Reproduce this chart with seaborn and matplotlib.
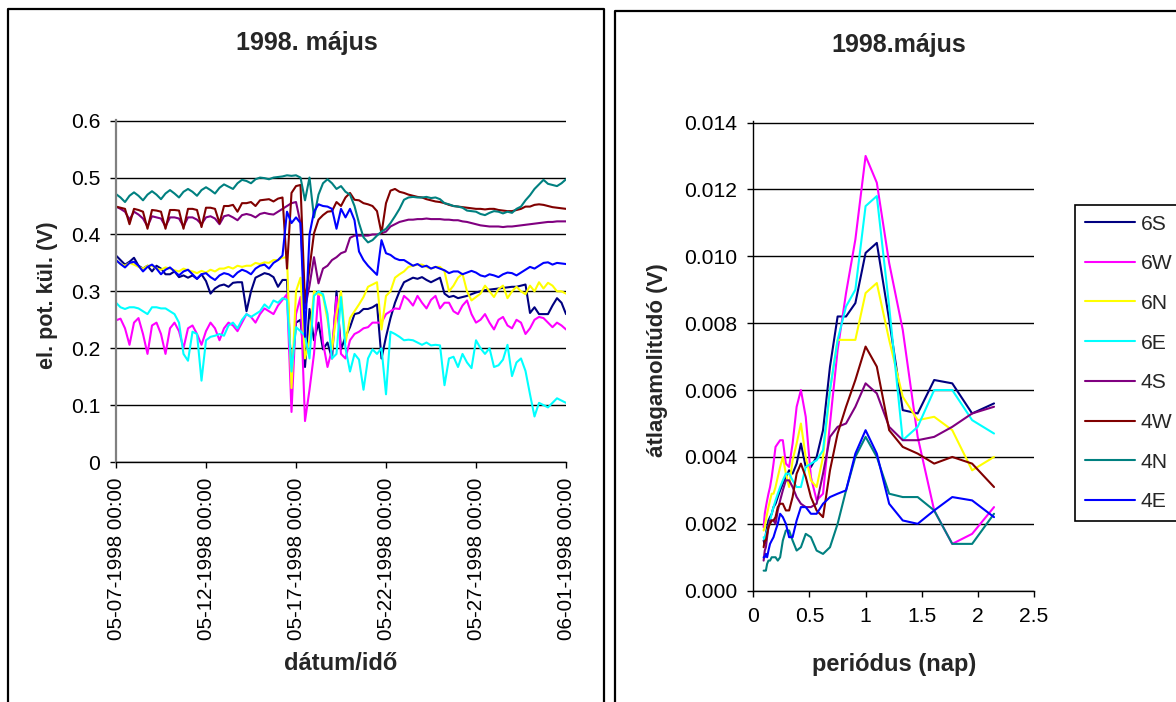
import numpy as np
import pandas as pd
import matplotlib
matplotlib.use("Agg")
import matplotlib.pyplot as plt
import matplotlib.dates as mdates
from matplotlib.lines import Line2D
from matplotlib.ticker import FixedLocator, FixedFormatter
import seaborn as sns

# ---------------- data ----------------
channels = ["6S", "6W", "6N", "6E", "4S", "4W", "4N", "4E"]
colors = {"6S": "#000080", "6W": "#FF00FF", "6N": "#FFFF00", "6E": "#00FFFF",
          "4S": "#800080", "4W": "#800000", "4N": "#008080", "4E": "#0000FF"}

# potential differences (V), one reading every 6 hours from 1998-05-07 00:00 (4 per row = 1 day)
t_start = "1998-05-07 00:00"
t_step = "6h"
pot_6S = [0.363, 0.355, 0.347, 0.352, 0.359, 0.345, 0.340, 0.345, 0.335, 0.345, 0.340, 0.330,
          0.330, 0.335, 0.325, 0.328, 0.324, 0.328, 0.322, 0.330, 0.318, 0.296, 0.305, 0.310,
          0.312, 0.308, 0.315, 0.316, 0.316, 0.265, 0.300, 0.324, 0.328, 0.332, 0.330, 0.325,
          0.308, 0.320, 0.320, 0.150, 0.245, 0.250, 0.167, 0.269, 0.214, 0.245, 0.198, 0.210,
          0.182, 0.300, 0.198, 0.220, 0.237, 0.260, 0.262, 0.269, 0.269, 0.272, 0.277, 0.182,
          0.220, 0.253, 0.280, 0.300, 0.316, 0.320, 0.324, 0.322, 0.325, 0.320, 0.316, 0.320,
          0.324, 0.296, 0.290, 0.292, 0.288, 0.290, 0.292, 0.295, 0.298, 0.300, 0.302, 0.303,
          0.304, 0.305, 0.306, 0.307, 0.308, 0.308, 0.310, 0.312, 0.262, 0.272, 0.260, 0.260,
          0.260, 0.275, 0.288, 0.280, 0.260]
pot_6W = [0.249, 0.252, 0.235, 0.206, 0.245, 0.253, 0.225, 0.190, 0.240, 0.245, 0.225, 0.190,
          0.235, 0.245, 0.230, 0.200, 0.235, 0.240, 0.225, 0.206, 0.230, 0.245, 0.235, 0.214,
          0.235, 0.245, 0.240, 0.230, 0.245, 0.260, 0.255, 0.245, 0.260, 0.270, 0.265, 0.260,
          0.275, 0.285, 0.295, 0.088, 0.260, 0.290, 0.072, 0.127, 0.190, 0.300, 0.210, 0.167,
          0.198, 0.290, 0.190, 0.182, 0.214, 0.225, 0.229, 0.235, 0.237, 0.245, 0.245, 0.245,
          0.260, 0.265, 0.270, 0.269, 0.292, 0.285, 0.275, 0.292, 0.280, 0.270, 0.285, 0.292,
          0.270, 0.280, 0.280, 0.265, 0.260, 0.275, 0.284, 0.260, 0.245, 0.250, 0.260, 0.245,
          0.233, 0.250, 0.255, 0.240, 0.235, 0.250, 0.245, 0.225, 0.235, 0.250, 0.255, 0.253,
          0.245, 0.237, 0.245, 0.240, 0.233]
pot_6N = [0.355, 0.348, 0.345, 0.350, 0.347, 0.343, 0.340, 0.345, 0.345, 0.340, 0.338, 0.342,
          0.340, 0.337, 0.335, 0.340, 0.337, 0.335, 0.332, 0.336, 0.333, 0.338, 0.335, 0.340,
          0.340, 0.343, 0.340, 0.345, 0.343, 0.345, 0.345, 0.350, 0.348, 0.351, 0.350, 0.355,
          0.355, 0.359, 0.360, 0.130, 0.300, 0.324, 0.182, 0.214, 0.300, 0.295, 0.292, 0.250,
          0.198, 0.260, 0.300, 0.210, 0.253, 0.265, 0.277, 0.290, 0.308, 0.312, 0.316, 0.233,
          0.292, 0.300, 0.324, 0.330, 0.335, 0.343, 0.345, 0.347, 0.347, 0.343, 0.340, 0.343,
          0.343, 0.335, 0.300, 0.310, 0.324, 0.331, 0.300, 0.284, 0.290, 0.296, 0.310, 0.300,
          0.290, 0.304, 0.310, 0.288, 0.300, 0.308, 0.300, 0.295, 0.310, 0.300, 0.316, 0.305,
          0.315, 0.310, 0.300, 0.300, 0.296]
pot_6E = [0.280, 0.272, 0.269, 0.272, 0.272, 0.270, 0.265, 0.260, 0.272, 0.272, 0.270, 0.270,
          0.265, 0.260, 0.245, 0.190, 0.178, 0.229, 0.225, 0.143, 0.214, 0.220, 0.222, 0.225,
          0.222, 0.240, 0.245, 0.235, 0.250, 0.260, 0.255, 0.260, 0.265, 0.277, 0.270, 0.284,
          0.280, 0.288, 0.285, 0.159, 0.237, 0.230, 0.222, 0.182, 0.292, 0.300, 0.295, 0.260,
          0.182, 0.190, 0.290, 0.200, 0.159, 0.190, 0.180, 0.127, 0.182, 0.198, 0.190, 0.200,
          0.119, 0.229, 0.225, 0.220, 0.214, 0.215, 0.214, 0.210, 0.206, 0.210, 0.205, 0.206,
          0.205, 0.135, 0.182, 0.185, 0.167, 0.190, 0.175, 0.165, 0.214, 0.200, 0.190, 0.200,
          0.167, 0.170, 0.180, 0.206, 0.151, 0.175, 0.182, 0.160, 0.119, 0.080, 0.104, 0.100,
          0.096, 0.104, 0.112, 0.108, 0.104]
pot_4S = [0.449, 0.445, 0.440, 0.426, 0.440, 0.435, 0.428, 0.414, 0.432, 0.430, 0.428, 0.414,
          0.430, 0.430, 0.428, 0.414, 0.430, 0.430, 0.426, 0.418, 0.430, 0.432, 0.428, 0.418,
          0.432, 0.434, 0.430, 0.425, 0.434, 0.436, 0.434, 0.430, 0.436, 0.438, 0.436, 0.435,
          0.440, 0.445, 0.450, 0.455, 0.457, 0.420, 0.270, 0.310, 0.360, 0.314, 0.340, 0.345,
          0.355, 0.360, 0.367, 0.370, 0.394, 0.398, 0.398, 0.398, 0.398, 0.400, 0.400, 0.402,
          0.405, 0.414, 0.418, 0.422, 0.424, 0.426, 0.426, 0.427, 0.427, 0.428, 0.427, 0.427,
          0.427, 0.426, 0.426, 0.425, 0.425, 0.423, 0.422, 0.420, 0.418, 0.416, 0.415, 0.414,
          0.414, 0.414, 0.413, 0.414, 0.414, 0.415, 0.416, 0.417, 0.418, 0.419, 0.420, 0.421,
          0.422, 0.422, 0.423, 0.423, 0.423]
pot_4W = [0.449, 0.447, 0.445, 0.418, 0.445, 0.443, 0.440, 0.410, 0.443, 0.442, 0.440, 0.410,
          0.443, 0.443, 0.442, 0.410, 0.445, 0.445, 0.443, 0.413, 0.447, 0.447, 0.445, 0.420,
          0.450, 0.450, 0.452, 0.440, 0.455, 0.455, 0.457, 0.450, 0.460, 0.461, 0.462, 0.458,
          0.463, 0.465, 0.340, 0.473, 0.485, 0.487, 0.280, 0.340, 0.402, 0.426, 0.434, 0.440,
          0.441, 0.457, 0.450, 0.465, 0.473, 0.461, 0.460, 0.455, 0.453, 0.450, 0.441, 0.402,
          0.455, 0.477, 0.480, 0.475, 0.473, 0.470, 0.468, 0.466, 0.465, 0.462, 0.460, 0.458,
          0.457, 0.455, 0.452, 0.450, 0.449, 0.448, 0.447, 0.446, 0.445, 0.445, 0.444, 0.445,
          0.445, 0.443, 0.442, 0.441, 0.441, 0.443, 0.445, 0.449, 0.449, 0.452, 0.453, 0.452,
          0.450, 0.448, 0.447, 0.446, 0.445]
pot_4N = [0.471, 0.465, 0.457, 0.468, 0.474, 0.468, 0.460, 0.470, 0.476, 0.470, 0.462, 0.472,
          0.478, 0.472, 0.465, 0.475, 0.480, 0.475, 0.468, 0.478, 0.483, 0.478, 0.472, 0.482,
          0.488, 0.484, 0.480, 0.490, 0.496, 0.494, 0.490, 0.497, 0.500, 0.499, 0.497, 0.500,
          0.501, 0.502, 0.504, 0.503, 0.504, 0.500, 0.460, 0.500, 0.430, 0.470, 0.490, 0.497,
          0.490, 0.480, 0.485, 0.475, 0.470, 0.450, 0.420, 0.395, 0.386, 0.390, 0.398, 0.405,
          0.410, 0.420, 0.432, 0.445, 0.461, 0.465, 0.466, 0.465, 0.465, 0.466, 0.464, 0.465,
          0.462, 0.455, 0.453, 0.450, 0.449, 0.447, 0.442, 0.441, 0.440, 0.436, 0.434, 0.438,
          0.441, 0.440, 0.437, 0.440, 0.438, 0.445, 0.449, 0.460, 0.469, 0.480, 0.488, 0.496,
          0.489, 0.487, 0.485, 0.490, 0.497]
pot_4E = [0.355, 0.348, 0.342, 0.350, 0.352, 0.345, 0.335, 0.343, 0.347, 0.340, 0.330, 0.338,
          0.342, 0.335, 0.328, 0.335, 0.338, 0.330, 0.322, 0.330, 0.332, 0.325, 0.320, 0.328,
          0.332, 0.330, 0.325, 0.333, 0.338, 0.335, 0.330, 0.340, 0.345, 0.347, 0.340, 0.350,
          0.355, 0.363, 0.440, 0.420, 0.430, 0.420, 0.220, 0.400, 0.440, 0.453, 0.450, 0.449,
          0.445, 0.410, 0.445, 0.430, 0.445, 0.425, 0.370, 0.355, 0.345, 0.337, 0.329, 0.390,
          0.367, 0.364, 0.358, 0.355, 0.355, 0.350, 0.345, 0.348, 0.343, 0.345, 0.340, 0.343,
          0.340, 0.337, 0.332, 0.335, 0.335, 0.330, 0.333, 0.336, 0.333, 0.328, 0.326, 0.330,
          0.328, 0.325, 0.330, 0.333, 0.332, 0.328, 0.333, 0.338, 0.343, 0.340, 0.345, 0.350,
          0.351, 0.347, 0.350, 0.349, 0.348]

# mean amplitude (V) against period (days)
period = [0.092, 0.102, 0.112, 0.123, 0.135, 0.149, 0.164, 0.180, 0.198, 0.218, 0.239, 0.263,
          0.290, 0.319, 0.350, 0.386, 0.424, 0.467, 0.513, 0.564, 0.621, 0.683, 0.751, 0.826,
          0.909, 1.000, 1.100, 1.210, 1.331, 1.464, 1.611, 1.772, 1.949, 2.144]
amp_6S = [0.0015,0.0014,0.0017,0.0019,0.0021,0.0022,0.0023,0.0025,0.0026,0.0028,0.0030,0.0032,0.0034,0.0036,
          0.0035,0.0038,0.0044,0.0037,0.0037,0.0040,0.0048,0.0067,0.0082,0.0082,0.0086,0.0101,0.0104,0.0081,
          0.0054,0.0053,0.0063,0.0062,0.0053,0.0056]
amp_6W = [0.0019,0.0023,0.0025,0.0027,0.0029,0.0031,0.0034,0.0038,0.0043,0.0044,0.0045,0.0045,0.0038,0.0037,
          0.0044,0.0055,0.0060,0.0052,0.0034,0.0027,0.0029,0.0050,0.0072,0.0089,0.0105,0.0130,0.0122,0.0098,
          0.0078,0.0046,0.0024,0.0014,0.0017,0.0025]
amp_6N = [0.0018,0.0019,0.0021,0.0023,0.0025,0.0027,0.0029,0.0029,0.0031,0.0034,0.0037,0.0040,0.0035,0.0031,
          0.0039,0.0044,0.0050,0.0040,0.0033,0.0031,0.0040,0.0060,0.0075,0.0075,0.0075,0.0089,0.0092,0.0075,
          0.0058,0.0051,0.0052,0.0048,0.0036,0.0040]
amp_6E = [0.0016,0.0015,0.0017,0.0018,0.0019,0.0021,0.0023,0.0025,0.0027,0.0029,0.0031,0.0033,0.0035,0.0035,
          0.0033,0.0031,0.0031,0.0037,0.0038,0.0039,0.0042,0.0060,0.0075,0.0085,0.0090,0.0115,0.0118,0.0085,
          0.0045,0.0049,0.0060,0.0060,0.0051,0.0047]
amp_4S = [0.0009,0.0012,0.0013,0.0016,0.0019,0.0021,0.0021,0.0021,0.0020,0.0024,0.0027,0.0030,0.0033,0.0033,
          0.0031,0.0028,0.0026,0.0025,0.0025,0.0026,0.0035,0.0046,0.0049,0.0050,0.0055,0.0062,0.0059,0.0049,
          0.0045,0.0045,0.0046,0.0049,0.0053,0.0055]
amp_4W = [0.0013,0.0015,0.0015,0.0017,0.0019,0.0020,0.0021,0.0021,0.0022,0.0025,0.0026,0.0026,0.0024,0.0024,
          0.0028,0.0035,0.0038,0.0034,0.0028,0.0024,0.0022,0.0036,0.0047,0.0055,0.0063,0.0073,0.0067,0.0048,
          0.0043,0.0041,0.0038,0.0040,0.0038,0.0031]
amp_4N = [0.0006,0.0006,0.0006,0.0008,0.0009,0.0009,0.0010,0.0010,0.0010,0.0009,0.0010,0.0015,0.0018,0.0018,
          0.0015,0.0012,0.0013,0.0017,0.0016,0.0012,0.0011,0.0013,0.0020,0.0030,0.0040,0.0046,0.0040,0.0029,
          0.0028,0.0028,0.0024,0.0014,0.0014,0.0023]
amp_4E = [0.0010,0.0010,0.0011,0.0010,0.0012,0.0014,0.0015,0.0016,0.0018,0.0020,0.0023,0.0022,0.0020,0.0016,
          0.0016,0.0021,0.0025,0.0025,0.0023,0.0023,0.0026,0.0028,0.0029,0.0030,0.0041,0.0048,0.0041,0.0026,
          0.0021,0.0020,0.0024,0.0028,0.0027,0.0022]

y_ticks_left = [0, 0.1, 0.2, 0.3, 0.4, 0.5, 0.6]
y_ticks_right = [0.000, 0.002, 0.004, 0.006, 0.008, 0.010, 0.012, 0.014]
x_ticks_right = [0, 0.5, 1, 1.5, 2, 2.5]
date_ticks = ["1998-05-07", "1998-05-12", "1998-05-17", "1998-05-22", "1998-05-27", "1998-06-01"]

pot = {"6S": pot_6S, "6W": pot_6W, "6N": pot_6N, "6E": pot_6E,
       "4S": pot_4S, "4W": pot_4W, "4N": pot_4N, "4E": pot_4E}
amp = {"6S": amp_6S, "6W": amp_6W, "6N": amp_6N, "6E": amp_6E,
       "4S": amp_4S, "4W": amp_4W, "4N": amp_4N, "4E": amp_4E}

frames = []
for ch in channels:
    t = pd.date_range(t_start, periods=len(pot[ch]), freq=t_step)
    frames.append(pd.DataFrame({"time": t, "value": pot[ch], "channel": ch}))
df_pot = pd.concat(frames, ignore_index=True)
df_amp = pd.concat([pd.DataFrame({"period": period, "amp": amp[ch], "channel": ch}) for ch in channels],
                   ignore_index=True)

# ---------------- figure ----------------
sns.set_theme(style="white")
plt.rcParams["font.family"] = ["Liberation Sans", "DejaVu Sans"]

W, H = 1176, 702
fig = plt.figure(figsize=(W / 100, H / 100), dpi=100)
fig.patch.set_facecolor("white")


def fx(px):
    return px / W


def fy(py):
    return 1 - py / H


def axes_px(x0, y0, x1, y1):
    return fig.add_axes([fx(x0), fy(y1), fx(x1) - fx(x0), fy(y0) - fy(y1)])


# panel borders
for xs, ys in [([8, 8, 604, 604], [712, 9, 9, 712]), ([615, 615, 1180], [712, 11, 11])]:
    fig.add_artist(Line2D([fx(v) for v in xs], [fy(v) for v in ys], transform=fig.transFigure,
                          color="black", lw=1.6))

tick_fs = 15.2
lab_fs = 16

# left: time series
ax1 = axes_px(116, 120, 566, 462)
sns.lineplot(data=df_pot, x="time", y="value", hue="channel", hue_order=channels, palette=colors,
             estimator=None, sort=False, lw=1.5, legend=False, ax=ax1)
ax1.set_xlim(pd.Timestamp(date_ticks[0]), pd.Timestamp(date_ticks[-1]))
ax1.set_ylim(0, 0.6012)
ax1.xaxis.set_major_locator(FixedLocator([mdates.date2num(pd.Timestamp(d)) for d in date_ticks]))
ax1.xaxis.set_major_formatter(mdates.DateFormatter("%m-%d-%Y %H:%M"))
ax1.yaxis.set_major_locator(FixedLocator(y_ticks_left))
ax1.yaxis.set_major_formatter(FixedFormatter([f"{v:g}" for v in y_ticks_left]))
ax1.spines["left"].set_color("#808080")
ax1.spines["left"].set_linewidth(1.6)

# right: amplitude spectrum
ax2 = axes_px(753.3, 121.5, 1034, 590.7)
sns.lineplot(data=df_amp, x="period", y="amp", hue="channel", hue_order=channels, palette=colors,
             estimator=None, sort=False, lw=1.5, legend=False, ax=ax2)
ax2.set_xlim(0, 2.5)
ax2.set_ylim(0, 0.01403)
ax2.xaxis.set_major_locator(FixedLocator(x_ticks_right))
ax2.xaxis.set_major_formatter(FixedFormatter([f"{v:g}" for v in x_ticks_right]))
ax2.yaxis.set_major_locator(FixedLocator(y_ticks_right))
ax2.yaxis.set_major_formatter(FixedFormatter([f"{v:.3f}" for v in y_ticks_right]))
ax2.spines["left"].set_color("black")
ax2.spines["left"].set_linewidth(1.0)

for ax in (ax1, ax2):
    ax.set_xlabel("")
    ax.set_ylabel("")
    ax.set_facecolor("white")
    ax.spines["top"].set_visible(False)
    ax.spines["right"].set_visible(False)
    ax.spines["bottom"].set_color("black")
    ax.spines["bottom"].set_linewidth(1.0)
    ax.yaxis.grid(True, color="black", lw=1.0)
    ax.xaxis.grid(False)
    ax.set_axisbelow(True)
    ax.tick_params(axis="both", which="major", direction="out", length=4.5, width=1.0,
                   color="black", labelsize=tick_fs, pad=7, left=True, bottom=True)
    for lbl in ax.get_xticklabels() + ax.get_yticklabels():
        lbl.set_color("black")

ax1.tick_params(axis="x", labelsize=14.8, labelrotation=90)

# titles and axis labels
fig.text(fx(307), fy(43), "1998. május", ha="center", va="center", fontsize=18, fontweight="bold")
fig.text(fx(899), fy(45), "1998.május", ha="center", va="center", fontsize=18, fontweight="bold")
fig.text(fx(48), fy(295), "el. pot. kül. (V)", rotation=90, ha="center", va="center",
         fontsize=15.5, fontweight="bold")
fig.text(fx(341), fy(663), "dátum/idő", ha="center", va="center", fontsize=17, fontweight="bold")
fig.text(fx(657), fy(360), "átlagamolitúdó (V)", rotation=90, ha="center", va="center",
         fontsize=lab_fs, fontweight="bold")
fig.text(fx(894), fy(664), "periódus (nap)", ha="center", va="center", fontsize=17, fontweight="bold")

# legend
handles = [Line2D([], [], color=colors[ch], lw=1.5) for ch in channels]
leg = fig.legend(handles, channels, loc="upper left", bbox_to_anchor=(fx(1075), fy(205)),
                 frameon=True, fancybox=False, shadow=False, framealpha=1, edgecolor="black",
                 fontsize=tick_fs, handlelength=2.4, handletextpad=0.25, labelspacing=0.98,
                 borderpad=0.45, borderaxespad=0)
leg.get_frame().set_linewidth(1.2)

fig.savefig("out.png", dpi=100, facecolor="white")
